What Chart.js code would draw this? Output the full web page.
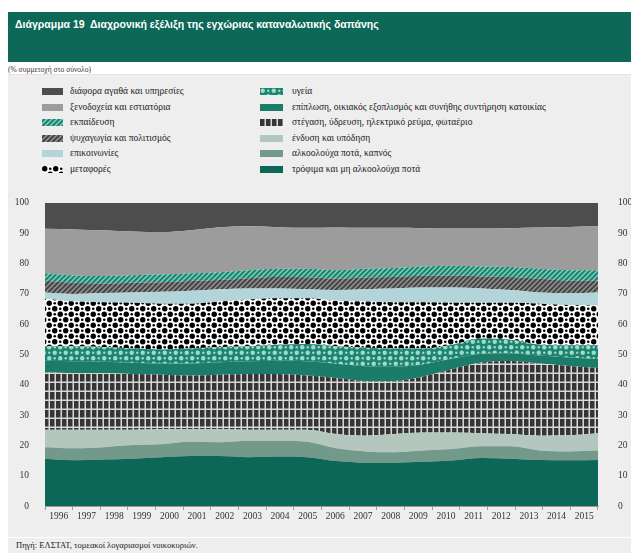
<!DOCTYPE html>
<html lang="el">
<head>
<meta charset="UTF-8">
<title>Διάγραμμα 19</title>
<script src="https://cdn.jsdelivr.net/npm/chart.js@4"></script>
<style>
  body { margin:0; width:631px; height:553px; background:#fff; position:relative; overflow:hidden; font-family:"Liberation Serif", "DejaVu Serif", serif; color:#222; }
  #titlebar { position:absolute; left:8px; top:12px; width:623px; height:50px; background:#0d6857; }
  #titlebar h1 { margin:0; position:absolute; left:7px; top:6px; font:bold 10.5px "Liberation Sans", sans-serif; color:#fff; white-space:nowrap; }
  #subtitle { position:absolute; left:8px; top:65px; font-size:7.5px; color:#333; }
  #panel { position:absolute; left:8px; top:74px; width:623px; height:462px; background:#eeeeee; border-top:1px solid #f2dede; }
  #srcbar { position:absolute; left:8px; top:538px; width:623px; height:15px; background:#eeeeee; }
  #srcbar span { position:absolute; left:8px; top:2px; font-size:8.5px; }
  .lg { position:absolute; font-size:9.5px; white-space:nowrap; line-height:10px; }
  .lg canvas { position:absolute; top:2px; }
  #wrap { position:absolute; left:8px; top:185px; }
</style>
</head>
<body>
<div id="titlebar"><h1>Διάγραμμα 19&nbsp; Διαχρονική εξέλιξη της εγχώριας καταναλωτικής δαπάνης</h1></div>
<div id="subtitle">(% συμμετοχή στο σύνολο)</div>
<div id="panel"></div>
<div id="legend"></div>
<div id="wrap"><canvas id="chart" width="623" height="350"></canvas></div>
<div id="srcbar"><span>Πηγή: ΕΛΣΤΑΤ, τομεακοί λογαριασμοί νοικοκυριών.</span></div>

<script>
// δεδομένα (% συμμετοχή), από κάτω προς τα πάνω
const years = ['1996','1997','1998','1999','2000','2001','2002','2003','2004','2005',
               '2006','2007','2008','2009','2010','2011','2012','2013','2014','2015'];

const trofima    = [15.6,15.1,15.3,15.6,16.1,16.5,16.5,16.1,16.3,16.1,14.8,14.3,14.3,14.6,15.0,15.8,15.6,15.2,15.1,15.2];
const alkool     = [3.8,3.9,4.1,4.5,4.3,4.7,4.5,5.4,5.2,5.1,4.2,3.7,3.4,3.7,3.8,3.9,4.1,3.1,2.9,3.1];
const endysi     = [5.7,6.1,5.7,5.0,4.9,4.1,4.3,3.6,3.6,3.9,4.7,5.1,6.0,5.9,5.4,4.3,4.0,4.8,5.3,5.7];
const stegasi    = [19.0,18.7,18.7,18.4,18.0,17.7,18.0,18.4,18.4,17.9,18.5,18.1,17.5,18.5,21.0,23.3,24.1,23.9,22.9,21.5];
const epiplosi   = [3.8,3.9,3.8,3.7,3.7,4.0,4.1,4.2,4.4,4.7,4.7,4.9,4.7,4.0,3.4,2.9,2.6,2.6,2.8,3.0];
const ygeia      = [4.8,5.0,4.8,4.7,4.6,4.9,5.0,5.0,5.3,5.7,5.8,6.1,6.0,5.2,4.6,5.0,4.4,3.6,4.0,4.5];
const metafores  = [15.6,14.7,14.8,15.1,15.1,14.8,15.0,15.4,15.3,15.1,15.0,15.2,15.3,15.3,13.8,11.8,12.2,13.5,13.3,13.1];
const epikoin    = [2.1,2.5,3.0,3.4,3.9,4.3,4.1,3.6,3.2,3.0,3.5,4.1,4.5,4.8,5.0,4.7,4.2,3.7,3.9,4.3];
const psyxagogia = [3.9,3.7,3.2,3.2,3.2,3.2,3.0,3.4,3.8,3.9,3.7,3.8,3.8,3.9,4.0,4.0,4.3,4.5,4.1,3.9];
const ekpaideusi = [2.4,2.4,2.4,2.5,2.5,2.5,2.6,2.6,2.7,2.8,2.8,2.9,3.0,3.1,3.2,3.3,3.3,3.3,3.4,3.4];
const xenodoxeia = [14.7,15.2,15.1,14.4,14.0,14.2,14.8,14.5,13.7,13.5,14.1,13.5,13.2,12.6,12.3,12.5,12.8,13.6,14.3,14.5];
const diafora    = [8.6,8.8,9.1,9.5,9.7,9.1,8.1,7.8,8.1,8.3,8.2,8.3,8.3,8.4,8.5,8.5,8.4,8.2,8.0,7.8];

const yTicks = [0,10,20,30,40,50,60,70,80,90,100];

// μοτίβα γεμίσματος
function pat(w, h, draw) {
  const c = document.createElement('canvas');
  c.width = w; c.height = h;
  const g = c.getContext('2d');
  draw(g, w, h);
  return g.createPattern(c, 'repeat');
}
function dots(bg, fg, rBig, rSmall) {
  return pat(11, 11, (g) => {
    g.fillStyle = bg; g.fillRect(0, 0, 11, 11);
    g.fillStyle = fg;
    [[2.75,2.75,rBig],[8.25,8.25,rBig],[8.25,2.75,rSmall],[2.75,8.25,rSmall]].forEach(d => {
      g.beginPath(); g.arc(d[0], d[1], d[2], 0, Math.PI*2); g.fill();
    });
  });
}
function hatch(bg, fg) {
  return pat(5, 5, (g) => {
    g.fillStyle = bg; g.fillRect(0, 0, 5, 5);
    g.strokeStyle = fg; g.lineWidth = 1.3;
    g.beginPath();
    g.moveTo(0, 5); g.lineTo(5, 0);
    g.moveTo(-1, 1); g.lineTo(1, -1);
    g.moveTo(4, 6); g.lineTo(6, 4);
    g.stroke();
  });
}
function bricks() {
  return pat(6, 9, (g) => {
    g.fillStyle = '#d9d9d9'; g.fillRect(0, 0, 6, 9);
    g.fillStyle = '#363636'; g.fillRect(0, 0, 4.5, 7.5);
  });
}

const series = [
  { label: 'τρόφιμα και μη αλκοολούχα ποτά', data: trofima, fill: '#0c6756' },
  { label: 'αλκοολούχα ποτά, καπνός', data: alkool, fill: '#73998a' },
  { label: 'ένδυση και υπόδηση', data: endysi, fill: '#b4c7bf' },
  { label: 'στέγαση, ύδρευση, ηλεκτρικό ρεύμα, φωταέριο', data: stegasi, fill: bricks() },
  { label: 'επίπλωση, οικιακός εξοπλισμός και συνήθης συντήρηση κατοικίας', data: epiplosi, fill: '#1b7d69' },
  { label: 'υγεία', data: ygeia, fill: dots('#1b8570', '#a3d8ce', 2.2, 1.2) },
  { label: 'μεταφορές', data: metafores, fill: dots('#ffffff', '#000000', 2.7, 1.3) },
  { label: 'επικοινωνίες', data: epikoin, fill: '#b3d4d8' },
  { label: 'ψυχαγωγία και πολιτισμός', data: psyxagogia, fill: hatch('#464646', '#9a9a9a') },
  { label: 'εκπαίδευση', data: ekpaideusi, fill: hatch('#17876f', '#8fd0c2') },
  { label: 'ξενοδοχεία και εστιατόρια', data: xenodoxeia, fill: '#9c9c9c' },
  { label: 'διάφορα αγαθά και υπηρεσίες', data: diafora, fill: '#4d4d4d' }
];

// υπόμνημα σε δύο στήλες
const leftCol = [11, 10, 9, 8, 7, 6];
const rightCol = [5, 4, 3, 2, 1, 0];
const legend = document.getElementById('legend');
function addItem(idx, row, x, sw) {
  const s = series[idx];
  const d = document.createElement('div');
  d.className = 'lg';
  d.style.left = x + 'px';
  d.style.top = (86 + row * 15.6) + 'px';
  const c = document.createElement('canvas');
  c.width = sw; c.height = 7;
  c.style.left = '0px';
  const g = c.getContext('2d');
  g.fillStyle = s.fill; g.fillRect(0, 0, sw, 7);
  d.appendChild(c);
  const t = document.createElement('span');
  t.textContent = s.label;
  t.style.marginLeft = (x < 200 ? 28 : 32) + 'px';
  d.appendChild(t);
  legend.appendChild(d);
}
leftCol.forEach((idx, r) => addItem(idx, r, 42, 21));
rightCol.forEach((idx, r) => addItem(idx, r, 260, 23));

const tickFont = { family: '"Liberation Serif", "DejaVu Serif", serif', size: 9.5 };

new Chart(document.getElementById('chart'), {
  type: 'line',
  data: {
    labels: years,
    datasets: series.map((s, i) => ({
      label: s.label,
      data: s.data,
      backgroundColor: s.fill,
      borderWidth: 0,
      pointRadius: 0,
      fill: i === 0 ? 'origin' : '-1',
      cubicInterpolationMode: 'monotone'
    }))
  },
  options: {
    responsive: false,
    animation: false,
    layout: { padding: { top: 9, left: 0, right: 0, bottom: 0 } },
    plugins: { legend: { display: false }, tooltip: { enabled: false } },
    scales: {
      x: { display: false, offset: false },
      x2: {
        type: 'category', labels: years, position: 'bottom', offset: true,
        grid: { offset: true, drawOnChartArea: false, tickLength: 4, color: '#9a9a9a' },
        border: { color: '#9a9a9a' },
        ticks: { font: tickFont, color: '#333', maxRotation: 0, autoSkip: false, padding: 1 },
        afterFit: s => { s.height = 29; }
      },
      y: {
        stacked: true, min: 0, max: 100, position: 'left',
        afterBuildTicks: s => { s.ticks = yTicks.map(v => ({ value: v })); },
        grid: { display: false }, border: { display: false },
        ticks: { font: tickFont, color: '#333', padding: 8 },
        afterFit: s => { s.width = 37; }
      },
      y2: {
        min: 0, max: 100, position: 'right',
        afterBuildTicks: s => { s.ticks = yTicks.map(v => ({ value: v })); },
        grid: { display: false }, border: { display: false },
        ticks: { font: tickFont, color: '#333', padding: 12 },
        afterFit: s => { s.width = 33; }
      }
    }
  }
});
</script>
</body>
</html>
